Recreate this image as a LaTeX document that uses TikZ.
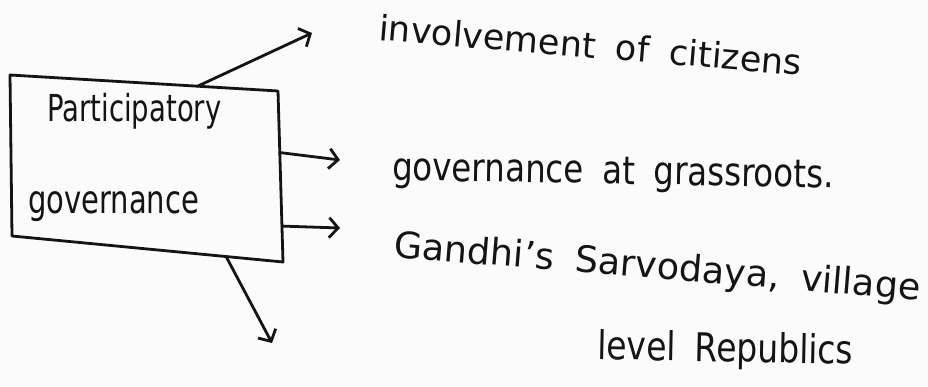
\documentclass[tikz,border=0pt]{standalone}
\usepackage{fontspec}
\setmainfont{DejaVu Sans}[WordSpace=1.8]
\usetikzlibrary{arrows.meta,calc}
\definecolor{ink}{HTML}{141414}
\definecolor{paper}{HTML}{FBFBFB}
\newcommand{\tallA}[1]{\scalebox{1}[1.2]{#1}}
\newcommand{\tallB}[1]{\scalebox{1}[1.35]{#1}}
\tikzset{
  conn/.style={draw=ink, line width=2.8pt, line cap=round, line join=round,
    -{Straight Barb[length=9pt,width=20pt]}},
  boxline/.style={draw=ink, line width=2.8pt, line join=round, line cap=round},
  hand/.style={text=ink, anchor=base west, inner sep=0pt},
}
\begin{document}
\begin{tikzpicture}[x=1pt,y=-1pt]
\useasboundingbox (0,0) rectangle (928,387);
\fill[paper] (0,0) rectangle (928,387);
% central box corners
\coordinate (tl) at (10,75);
\coordinate (tr) at (278,91);
\coordinate (br) at (283,262);
\coordinate (bl) at (12,236);
\draw[boxline] (tl) -- (tr) -- (br) -- (bl) -- cycle;
\node[hand, font=\fontsize{27.5}{32}\selectfont] (t1) at (47,122) {\tallB{Participatory}};
\node[hand, font=\fontsize{29}{34}\selectfont] (t2) at (28,214) {\tallB{governance}};
% target texts
\node[hand, rotate=-4.8, font=\fontsize{35}{40}\selectfont] (a) at (378,40) {involvement of citizens};
\node[hand, rotate=-1, font=\fontsize{32.5}{38}\selectfont] (b) at (392,180) {\tallA{governance at grassroots.}};
\node[hand, rotate=-4.7, font=\fontsize{36.5}{42}\selectfont] (c) at (393,257) {Gandhi's Sarvodaya, village};
\node[hand, rotate=-1.2, font=\fontsize{33}{38}\selectfont] (d) at (597,359) {\tallA{level Republics}};
% arrow ends
\coordinate (e1) at (312,33);
\coordinate (e2) at (340,160);
\coordinate (e3) at (340,228);
\coordinate (e4) at (272,343);
% connectors
\draw[conn] ($(tl)!0.70!(tr)$) -- (e1);
\draw[conn] ($(tr)!0.36!(br)$) -- (e2);
\draw[conn] ($(tr)!0.79!(br)$) -- (e3);
\draw[conn] ($(bl)!0.79!(br)$) -- (e4);
\end{tikzpicture}
\end{document}
